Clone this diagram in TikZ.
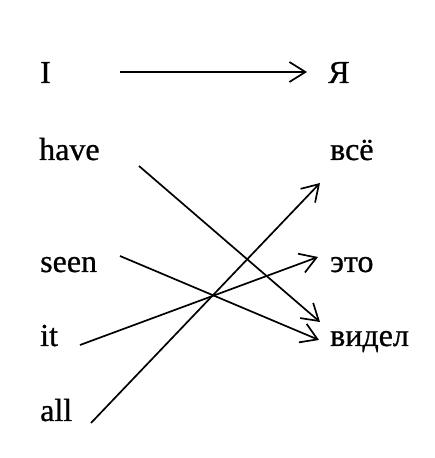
\documentclass[tikz,border=0pt]{standalone}
\usepackage{fontspec}
\setmainfont{Liberation Serif}
\newfontfamily\wordfont{Liberation Serif}[FakeBold=0.8]
\usetikzlibrary{arrows.meta}
\begin{document}
\begin{tikzpicture}[x=1pt,y=1pt,
  word/.style={inner sep=0pt,anchor=base west,font=\wordfont\fontsize{32}{38}\selectfont},
  link/.style={line width=1.7pt,-{Straight Barb[length=16pt,width=20pt,line width=1.7pt]}}]
\useasboundingbox (0,0) rectangle (434,458);
\node[word] (I) at (40,375) {I};
\node[word] (have) at (39,298) {have};
\node[word] (seen) at (40,186) {seen};
\node[word] (it) at (40,112) {it};
\node[word] (all) at (40,37) {all};
\node[word] (ya) at (328,375) {Я};
\node[word] (vse) at (330,298) {всё};
\node[word] (eto) at (330,186) {это};
\node[word] (videl) at (330,112) {видел};
\draw[link] ([shift={(80,11)}]I.base west) -- ([shift={(-21,11)}]ya.base west);
\draw[link] ([shift={(100,-6)}]have.base west) -- ([shift={(-10,24)}]videl.base west);
\draw[link] ([shift={(80,16)}]seen.base west) -- ([shift={(-11,6)}]videl.base west);
\draw[link] ([shift={(40,1)}]it.base west) -- ([shift={(-12,15)}]eto.base west);
\draw[link] ([shift={(51,-2)}]all.base west) -- ([shift={(-10,-23)}]vse.base west);
\end{tikzpicture}
\end{document}
